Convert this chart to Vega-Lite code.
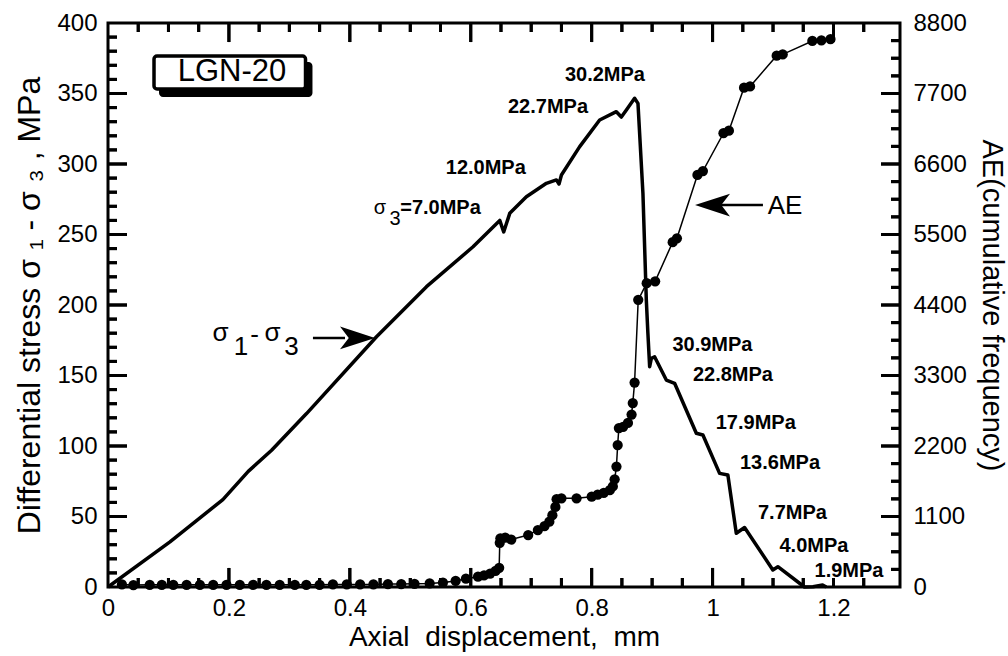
{
  "$schema": "https://vega.github.io/schema/vega-lite/v6.json",
  "width": 792,
  "height": 564,
  "autosize": {"type": "none"},
  "padding": {"left": 108, "top": 23, "right": 108, "bottom": 69},
  "background": "white",
  "config": {
    "view": {"stroke": "black", "strokeWidth": 3},
    "font": "Liberation Sans",
    "axis": {
      "grid": false, "domain": false, "ticks": false, "labelColor": "black", "titleColor": "black",
      "labelFont": "Liberation Sans", "titleFont": "Liberation Sans", "labelFontSize": 24, "titleFontSize": 28,
      "titleFontWeight": "normal", "labelFlush": false, "labelOverlap": false, "labelBound": false
    }
  },
  "datasets": {
    "stress": [
      {"x": 0.0, "s": 0}, {"x": 0.1025, "s": 32}, {"x": 0.19, "s": 62}, {"x": 0.232, "s": 82},
      {"x": 0.2706, "s": 97}, {"x": 0.3284, "s": 123}, {"x": 0.4441, "s": 177.5}, {"x": 0.5268, "s": 213},
      {"x": 0.6038, "s": 241.3}, {"x": 0.648, "s": 260}, {"x": 0.6545, "s": 251.8}, {"x": 0.6645, "s": 265},
      {"x": 0.692, "s": 276.8}, {"x": 0.7251, "s": 286.3}, {"x": 0.7417, "s": 288.7}, {"x": 0.746, "s": 285.8},
      {"x": 0.75, "s": 292.2}, {"x": 0.7802, "s": 312.3}, {"x": 0.8132, "s": 331.2}, {"x": 0.8408, "s": 337.1},
      {"x": 0.8491, "s": 333.3}, {"x": 0.8574, "s": 338.3}, {"x": 0.871, "s": 346.6}, {"x": 0.8766, "s": 343},
      {"x": 0.8848, "s": 279.2}, {"x": 0.8904, "s": 203.5}, {"x": 0.893, "s": 180.1}, {"x": 0.8959, "s": 156.2},
      {"x": 0.8987, "s": 162.2}, {"x": 0.9041, "s": 163.3}, {"x": 0.9235, "s": 146.8}, {"x": 0.9372, "s": 144.5},
      {"x": 0.9731, "s": 109}, {"x": 0.984, "s": 107.8}, {"x": 1.0116, "s": 80.6}, {"x": 1.0253, "s": 79.4},
      {"x": 1.0392, "s": 38.1}, {"x": 1.0529, "s": 42.2}, {"x": 1.0997, "s": 12.1}, {"x": 1.108, "s": 14.4},
      {"x": 1.152, "s": 0}, {"x": 1.166, "s": 0.2}, {"x": 1.182, "s": 1.4}, {"x": 1.188, "s": 0}
    ],
    "ae": [
      {"x": 0.023, "ae": 40}, {"x": 0.042, "ae": 30}, {"x": 0.069, "ae": 35}, {"x": 0.089, "ae": 35},
      {"x": 0.108, "ae": 35}, {"x": 0.130, "ae": 35}, {"x": 0.152, "ae": 35}, {"x": 0.174, "ae": 35},
      {"x": 0.196, "ae": 35}, {"x": 0.218, "ae": 35}, {"x": 0.240, "ae": 35}, {"x": 0.262, "ae": 35},
      {"x": 0.284, "ae": 35}, {"x": 0.309, "ae": 35}, {"x": 0.328, "ae": 35}, {"x": 0.350, "ae": 35},
      {"x": 0.372, "ae": 40}, {"x": 0.395, "ae": 40}, {"x": 0.417, "ae": 40}, {"x": 0.439, "ae": 40},
      {"x": 0.463, "ae": 45}, {"x": 0.485, "ae": 45}, {"x": 0.507, "ae": 50}, {"x": 0.532, "ae": 55},
      {"x": 0.554, "ae": 70}, {"x": 0.575, "ae": 95}, {"x": 0.592, "ae": 130}, {"x": 0.612, "ae": 160},
      {"x": 0.622, "ae": 180}, {"x": 0.632, "ae": 210}, {"x": 0.641, "ae": 250}, {"x": 0.647, "ae": 300},
      {"x": 0.648, "ae": 690}, {"x": 0.649, "ae": 760}, {"x": 0.657, "ae": 770}, {"x": 0.667, "ae": 740},
      {"x": 0.695, "ae": 811}, {"x": 0.711, "ae": 889}, {"x": 0.722, "ae": 950}, {"x": 0.730, "ae": 1020},
      {"x": 0.735, "ae": 1120}, {"x": 0.740, "ae": 1250}, {"x": 0.742, "ae": 1370}, {"x": 0.750, "ae": 1384},
      {"x": 0.775, "ae": 1384}, {"x": 0.800, "ae": 1409}, {"x": 0.810, "ae": 1440}, {"x": 0.820, "ae": 1470},
      {"x": 0.830, "ae": 1510}, {"x": 0.835, "ae": 1570}, {"x": 0.838, "ae": 1680}, {"x": 0.841, "ae": 1880},
      {"x": 0.843, "ae": 2215}, {"x": 0.845, "ae": 2480}, {"x": 0.852, "ae": 2500}, {"x": 0.860, "ae": 2560},
      {"x": 0.866, "ae": 2690}, {"x": 0.868, "ae": 2870}, {"x": 0.871, "ae": 3190}, {"x": 0.877, "ae": 4480},
      {"x": 0.891, "ae": 4740}, {"x": 0.905, "ae": 4770}, {"x": 0.934, "ae": 5380}, {"x": 0.941, "ae": 5440},
      {"x": 0.975, "ae": 6430}, {"x": 0.984, "ae": 6490}, {"x": 1.018, "ae": 7080}, {"x": 1.027, "ae": 7120},
      {"x": 1.052, "ae": 7790}, {"x": 1.062, "ae": 7810}, {"x": 1.106, "ae": 8290}, {"x": 1.116, "ae": 8310},
      {"x": 1.165, "ae": 8520}, {"x": 1.180, "ae": 8530}, {"x": 1.195, "ae": 8550}
    ],
    "labels": [
      {"g": "b", "x": 0.822, "y": 363.1, "t": "30.2MPa"},
      {"g": "b", "x": 0.7278, "y": 340.1, "t": "22.7MPa"},
      {"g": "b", "x": 0.6249, "y": 297.5, "t": "12.0MPa"},
      {"g": "b", "x": 0.55, "y": 269.1, "t": "=7.0MPa"},
      {"g": "b", "x": 0.9998, "y": 171.6, "t": "30.9MPa"},
      {"g": "b", "x": 1.0337, "y": 150.4, "t": "22.8MPa"},
      {"g": "b", "x": 1.0714, "y": 116.3, "t": "17.9MPa"},
      {"g": "b", "x": 1.1115, "y": 87.9, "t": "13.6MPa"},
      {"g": "b", "x": 1.1321, "y": 52.5, "t": "7.7MPa"},
      {"g": "b", "x": 1.1677, "y": 29.1, "t": "4.0MPa"},
      {"g": "b", "x": 1.2256, "y": 11.3, "t": "1.9MPa"},
      {"g": "s", "x": 0.4499, "y": 268.8, "t": "σ"},
      {"g": "s", "x": 0.4747, "y": 261.3, "t": "3"},
      {"g": "L", "x": 0.1861, "y": 179.8, "t": "σ"},
      {"g": "L", "x": 0.22, "y": 169.9, "t": "1"},
      {"g": "L", "x": 0.2423, "y": 178.7, "t": "-"},
      {"g": "L", "x": 0.2721, "y": 179.8, "t": "σ"},
      {"g": "L", "x": 0.3035, "y": 169.9, "t": "3"},
      {"g": "L", "x": 1.1198, "y": 270.2, "t": "AE"},
      {"g": "T", "x": 0.2051, "y": 365.6, "t": "LGN-20"}
    ],
    "arrows": [
      {"dir": "r", "x1": 0.339, "x2": 0.392, "hx": 0.4127, "y": 176.6},
      {"dir": "l", "x1": 1.005, "x2": 1.0833, "hx": 0.9999, "y": 270.9}
    ],
    "box": [
      {"part": "shadow", "x1": 0.0844, "x2": 0.3382, "y1": 372.3, "y2": 347.5},
      {"part": "front", "x1": 0.0761, "x2": 0.3267, "y1": 376.6, "y2": 353.2}
    ],
    "tk": [
      {"o": "v", "x": 0.2, "a": 0, "b": 13.5}, {"o": "v", "x": 0.4, "a": 0, "b": 13.5}, {"o": "v", "x": 0.6, "a": 0, "b": 13.5},
      {"o": "v", "x": 0.8, "a": 0, "b": 13.5}, {"o": "v", "x": 1.0, "a": 0, "b": 13.5},
      {"o": "v", "x": 0.2, "a": 400, "b": 386.5}, {"o": "v", "x": 0.4, "a": 400, "b": 386.5}, {"o": "v", "x": 0.6, "a": 400, "b": 386.5},
      {"o": "v", "x": 0.8, "a": 400, "b": 386.5}, {"o": "v", "x": 1.0, "a": 400, "b": 386.5}, {"o": "v", "x": 1.2, "a": 400, "b": 386.5},
      {"o": "v", "x": 0.05, "a": 0, "b": 6.4}, {"o": "v", "x": 0.1, "a": 0, "b": 6.4}, {"o": "v", "x": 0.15, "a": 0, "b": 6.4},
      {"o": "v", "x": 0.25, "a": 0, "b": 6.4}, {"o": "v", "x": 0.3, "a": 0, "b": 6.4}, {"o": "v", "x": 0.35, "a": 0, "b": 6.4},
      {"o": "v", "x": 0.45, "a": 0, "b": 6.4}, {"o": "v", "x": 0.5, "a": 0, "b": 6.4}, {"o": "v", "x": 0.55, "a": 0, "b": 6.4},
      {"o": "v", "x": 0.65, "a": 0, "b": 6.4}, {"o": "v", "x": 0.7, "a": 0, "b": 6.4}, {"o": "v", "x": 0.75, "a": 0, "b": 6.4},
      {"o": "v", "x": 0.85, "a": 0, "b": 6.4}, {"o": "v", "x": 0.9, "a": 0, "b": 6.4}, {"o": "v", "x": 0.95, "a": 0, "b": 6.4},
      {"o": "v", "x": 1.05, "a": 0, "b": 6.4}, {"o": "v", "x": 1.1, "a": 0, "b": 6.4}, {"o": "v", "x": 1.15, "a": 0, "b": 6.4},
      {"o": "v", "x": 1.2, "a": 0, "b": 6.4}, {"o": "v", "x": 1.25, "a": 0, "b": 6.4},
      {"o": "v", "x": 0.05, "a": 400, "b": 393.6}, {"o": "v", "x": 0.1, "a": 400, "b": 393.6}, {"o": "v", "x": 0.15, "a": 400, "b": 393.6},
      {"o": "v", "x": 0.25, "a": 400, "b": 393.6}, {"o": "v", "x": 0.3, "a": 400, "b": 393.6}, {"o": "v", "x": 0.35, "a": 400, "b": 393.6},
      {"o": "v", "x": 0.45, "a": 400, "b": 393.6}, {"o": "v", "x": 0.5, "a": 400, "b": 393.6}, {"o": "v", "x": 0.55, "a": 400, "b": 393.6},
      {"o": "v", "x": 0.65, "a": 400, "b": 393.6}, {"o": "v", "x": 0.7, "a": 400, "b": 393.6}, {"o": "v", "x": 0.75, "a": 400, "b": 393.6},
      {"o": "v", "x": 0.85, "a": 400, "b": 393.6}, {"o": "v", "x": 0.9, "a": 400, "b": 393.6}, {"o": "v", "x": 0.95, "a": 400, "b": 393.6},
      {"o": "v", "x": 1.05, "a": 400, "b": 393.6}, {"o": "v", "x": 1.1, "a": 400, "b": 393.6}, {"o": "v", "x": 1.15, "a": 400, "b": 393.6},
      {"o": "v", "x": 1.25, "a": 400, "b": 393.6},
      {"o": "h", "y": 50, "a": 0, "b": 0.0314}, {"o": "h", "y": 100, "a": 0, "b": 0.0314}, {"o": "h", "y": 150, "a": 0, "b": 0.0314},
      {"o": "h", "y": 200, "a": 0, "b": 0.0314}, {"o": "h", "y": 250, "a": 0, "b": 0.0314}, {"o": "h", "y": 300, "a": 0, "b": 0.0314},
      {"o": "h", "y": 350, "a": 0, "b": 0.0314},
      {"o": "h", "y": 50, "a": 1.31, "b": 1.2786}, {"o": "h", "y": 100, "a": 1.31, "b": 1.2786}, {"o": "h", "y": 150, "a": 1.31, "b": 1.2786},
      {"o": "h", "y": 200, "a": 1.31, "b": 1.2786}, {"o": "h", "y": 250, "a": 1.31, "b": 1.2786}, {"o": "h", "y": 300, "a": 1.31, "b": 1.2786},
      {"o": "h", "y": 350, "a": 1.31, "b": 1.2786},
      {"o": "h", "y": 10, "a": 0, "b": 0.0149}, {"o": "h", "y": 20, "a": 0, "b": 0.0149}, {"o": "h", "y": 30, "a": 0, "b": 0.0149},
      {"o": "h", "y": 40, "a": 0, "b": 0.0149}, {"o": "h", "y": 60, "a": 0, "b": 0.0149}, {"o": "h", "y": 70, "a": 0, "b": 0.0149},
      {"o": "h", "y": 80, "a": 0, "b": 0.0149}, {"o": "h", "y": 90, "a": 0, "b": 0.0149}, {"o": "h", "y": 110, "a": 0, "b": 0.0149},
      {"o": "h", "y": 120, "a": 0, "b": 0.0149}, {"o": "h", "y": 130, "a": 0, "b": 0.0149}, {"o": "h", "y": 140, "a": 0, "b": 0.0149},
      {"o": "h", "y": 160, "a": 0, "b": 0.0149}, {"o": "h", "y": 170, "a": 0, "b": 0.0149}, {"o": "h", "y": 180, "a": 0, "b": 0.0149},
      {"o": "h", "y": 190, "a": 0, "b": 0.0149}, {"o": "h", "y": 210, "a": 0, "b": 0.0149}, {"o": "h", "y": 220, "a": 0, "b": 0.0149},
      {"o": "h", "y": 230, "a": 0, "b": 0.0149}, {"o": "h", "y": 240, "a": 0, "b": 0.0149}, {"o": "h", "y": 260, "a": 0, "b": 0.0149},
      {"o": "h", "y": 270, "a": 0, "b": 0.0149}, {"o": "h", "y": 280, "a": 0, "b": 0.0149}, {"o": "h", "y": 290, "a": 0, "b": 0.0149},
      {"o": "h", "y": 310, "a": 0, "b": 0.0149}, {"o": "h", "y": 320, "a": 0, "b": 0.0149}, {"o": "h", "y": 330, "a": 0, "b": 0.0149},
      {"o": "h", "y": 340, "a": 0, "b": 0.0149}, {"o": "h", "y": 360, "a": 0, "b": 0.0149}, {"o": "h", "y": 370, "a": 0, "b": 0.0149},
      {"o": "h", "y": 380, "a": 0, "b": 0.0149}, {"o": "h", "y": 390, "a": 0, "b": 0.0149},
      {"o": "h", "y": 12.5, "a": 1.31, "b": 1.2951}, {"o": "h", "y": 25, "a": 1.31, "b": 1.2951}, {"o": "h", "y": 37.5, "a": 1.31, "b": 1.2951},
      {"o": "h", "y": 62.5, "a": 1.31, "b": 1.2951}, {"o": "h", "y": 75, "a": 1.31, "b": 1.2951}, {"o": "h", "y": 87.5, "a": 1.31, "b": 1.2951},
      {"o": "h", "y": 112.5, "a": 1.31, "b": 1.2951}, {"o": "h", "y": 125, "a": 1.31, "b": 1.2951}, {"o": "h", "y": 137.5, "a": 1.31, "b": 1.2951},
      {"o": "h", "y": 162.5, "a": 1.31, "b": 1.2951}, {"o": "h", "y": 175, "a": 1.31, "b": 1.2951}, {"o": "h", "y": 187.5, "a": 1.31, "b": 1.2951},
      {"o": "h", "y": 212.5, "a": 1.31, "b": 1.2951}, {"o": "h", "y": 225, "a": 1.31, "b": 1.2951}, {"o": "h", "y": 237.5, "a": 1.31, "b": 1.2951},
      {"o": "h", "y": 262.5, "a": 1.31, "b": 1.2951}, {"o": "h", "y": 275, "a": 1.31, "b": 1.2951}, {"o": "h", "y": 287.5, "a": 1.31, "b": 1.2951},
      {"o": "h", "y": 312.5, "a": 1.31, "b": 1.2951}, {"o": "h", "y": 325, "a": 1.31, "b": 1.2951}, {"o": "h", "y": 337.5, "a": 1.31, "b": 1.2951},
      {"o": "h", "y": 362.5, "a": 1.31, "b": 1.2951}, {"o": "h", "y": 375, "a": 1.31, "b": 1.2951}, {"o": "h", "y": 387.5, "a": 1.31, "b": 1.2951}
    ]
  },
  "resolve": {"scale": {"y": "independent"}, "axis": {"x": "independent", "y": "independent"}},
  "layer": [
    {
      "data": {"name": "stress"},
      "mark": {"type": "line", "color": "black", "strokeWidth": 3.5, "strokeJoin": "round"},
      "encoding": {
        "x": {"field": "x", "type": "quantitative", "scale": {"domain": [0, 1.31], "nice": false, "zero": false},
          "axis": {"orient": "bottom", "values": [0, 0.2, 0.4, 0.6, 0.8, 1, 1.2], "format": "~g", "labelPadding": 9,
            "title": "Axial\u00a0\u00a0displacement,\u00a0\u00a0mm", "titlePadding": 3}},
        "y": {"field": "s", "type": "quantitative", "scale": {"domain": [0, 400], "nice": false, "zero": false},
          "axis": {"orient": "left", "values": [0, 50, 100, 150, 200, 250, 300, 350, 400], "format": "d", "labelPadding": 11,
            "title": "Differential stress σ ₁ - σ ₃ , MPa", "titleFontSize": 32, "titlePadding": 10}},
        "order": {"value": null}
      }
    },
    {
      "data": {"name": "ae"},
      "mark": {"type": "line", "color": "black", "strokeWidth": 1.5},
      "encoding": {
        "x": {"field": "x", "type": "quantitative", "scale": {"domain": [0, 1.31], "nice": false, "zero": false}, "axis": null},
        "y": {"field": "ae", "type": "quantitative", "scale": {"domain": [0, 8800], "nice": false, "zero": false},
          "axis": {"orient": "right", "values": [0, 1100, 2200, 3300, 4400, 5500, 6600, 7700, 8800], "format": "d", "labelPadding": 13,
            "title": "AE(cumulative frequency)", "titleFontSize": 29, "titlePadding": 10}},
        "order": {"value": null}
      }
    },
    {
      "data": {"name": "ae"},
      "mark": {"type": "circle", "color": "black", "size": 105, "opacity": 1},
      "encoding": {
        "x": {"field": "x", "type": "quantitative", "scale": {"domain": [0, 1.31], "nice": false, "zero": false}, "axis": null},
        "y": {"field": "ae", "type": "quantitative", "scale": {"domain": [0, 8800], "nice": false, "zero": false}, "axis": null}
      }
    },
    {
      "data": {"name": "tk"},
      "transform": [{"filter": "datum.o === 'v'"}],
      "mark": {"type": "rect", "color": "black", "width": 3, "opacity": 1},
      "encoding": {
        "x": {"field": "x", "type": "quantitative", "scale": {"domain": [0, 1.31], "nice": false, "zero": false}, "axis": null},
        "y": {"field": "a", "type": "quantitative", "scale": {"domain": [0, 400], "nice": false, "zero": false}, "axis": null},
        "y2": {"field": "b"}
      }
    },
    {
      "data": {"name": "tk"},
      "transform": [{"filter": "datum.o === 'h'"}],
      "mark": {"type": "rect", "color": "black", "height": 3, "opacity": 1},
      "encoding": {
        "y": {"field": "y", "type": "quantitative", "scale": {"domain": [0, 400], "nice": false, "zero": false}, "axis": null},
        "x": {"field": "a", "type": "quantitative", "scale": {"domain": [0, 1.31], "nice": false, "zero": false}, "axis": null},
        "x2": {"field": "b"}
      }
    },
    {
      "data": {"name": "tk"},
      "transform": [{"filter": "datum.o === 'v'"}],
      "mark": {"type": "rule", "color": "black", "strokeWidth": 3},
      "encoding": {
        "x": {"field": "x", "type": "quantitative", "scale": {"domain": [0, 1.31], "nice": false, "zero": false}, "axis": null},
        "y": {"field": "a", "type": "quantitative", "scale": {"domain": [0, 400], "nice": false, "zero": false}, "axis": null},
        "y2": {"field": "b"}
      }
    },
    {
      "data": {"name": "tk"},
      "transform": [{"filter": "datum.o === 'h'"}],
      "mark": {"type": "rule", "color": "black", "strokeWidth": 3},
      "encoding": {
        "y": {"field": "y", "type": "quantitative", "scale": {"domain": [0, 400], "nice": false, "zero": false}, "axis": null},
        "x": {"field": "a", "type": "quantitative", "scale": {"domain": [0, 1.31], "nice": false, "zero": false}, "axis": null},
        "x2": {"field": "b"}
      }
    },
    {
      "data": {"name": "box"},
      "transform": [{"filter": "datum.part === 'shadow'"}],
      "mark": {"type": "rect", "color": "black", "cornerRadius": 4},
      "encoding": {
        "x": {"field": "x1", "type": "quantitative", "scale": {"domain": [0, 1.31], "nice": false, "zero": false}, "axis": null},
        "x2": {"field": "x2"},
        "y": {"field": "y1", "type": "quantitative", "scale": {"domain": [0, 400], "nice": false, "zero": false}, "axis": null},
        "y2": {"field": "y2"}
      }
    },
    {
      "data": {"name": "box"},
      "transform": [{"filter": "datum.part === 'front'"}],
      "mark": {"type": "rect", "fill": "white", "stroke": "black", "strokeWidth": 3.5, "cornerRadius": 3},
      "encoding": {
        "x": {"field": "x1", "type": "quantitative", "scale": {"domain": [0, 1.31], "nice": false, "zero": false}, "axis": null},
        "x2": {"field": "x2"},
        "y": {"field": "y1", "type": "quantitative", "scale": {"domain": [0, 400], "nice": false, "zero": false}, "axis": null},
        "y2": {"field": "y2"}
      }
    },
    {
      "data": {"name": "labels"},
      "transform": [{"filter": "datum.g === 'b'"}],
      "mark": {"type": "text", "font": "Liberation Sans", "fontSize": 20, "fontWeight": "bold", "align": "center", "baseline": "middle", "color": "black"},
      "encoding": {
        "x": {"field": "x", "type": "quantitative", "scale": {"domain": [0, 1.31], "nice": false, "zero": false}, "axis": null},
        "y": {"field": "y", "type": "quantitative", "scale": {"domain": [0, 400], "nice": false, "zero": false}, "axis": null},
        "text": {"field": "t"}
      }
    },
    {
      "data": {"name": "labels"},
      "transform": [{"filter": "datum.g === 's'"}],
      "mark": {"type": "text", "font": "Liberation Sans", "fontSize": 20, "align": "center", "baseline": "middle", "color": "black"},
      "encoding": {
        "x": {"field": "x", "type": "quantitative", "scale": {"domain": [0, 1.31], "nice": false, "zero": false}, "axis": null},
        "y": {"field": "y", "type": "quantitative", "scale": {"domain": [0, 400], "nice": false, "zero": false}, "axis": null},
        "text": {"field": "t"}
      }
    },
    {
      "data": {"name": "labels"},
      "transform": [{"filter": "datum.g === 'L'"}],
      "mark": {"type": "text", "font": "Liberation Sans", "fontSize": 26, "align": "center", "baseline": "middle", "color": "black"},
      "encoding": {
        "x": {"field": "x", "type": "quantitative", "scale": {"domain": [0, 1.31], "nice": false, "zero": false}, "axis": null},
        "y": {"field": "y", "type": "quantitative", "scale": {"domain": [0, 400], "nice": false, "zero": false}, "axis": null},
        "text": {"field": "t"}
      }
    },
    {
      "data": {"name": "labels"},
      "transform": [{"filter": "datum.g === 'T'"}],
      "mark": {"type": "text", "font": "Liberation Sans", "fontSize": 31, "letterSpacing": 5, "align": "center", "baseline": "middle", "color": "black"},
      "encoding": {
        "x": {"field": "x", "type": "quantitative", "scale": {"domain": [0, 1.31], "nice": false, "zero": false}, "axis": null},
        "y": {"field": "y", "type": "quantitative", "scale": {"domain": [0, 400], "nice": false, "zero": false}, "axis": null},
        "text": {"field": "t"}
      }
    },
    {
      "data": {"name": "arrows"},
      "mark": {"type": "rule", "color": "black", "strokeWidth": 2.5},
      "encoding": {
        "x": {"field": "x1", "type": "quantitative", "scale": {"domain": [0, 1.31], "nice": false, "zero": false}, "axis": null},
        "x2": {"field": "x2"},
        "y": {"field": "y", "type": "quantitative", "scale": {"domain": [0, 400], "nice": false, "zero": false}, "axis": null}
      }
    },
    {
      "data": {"name": "arrows"},
      "transform": [{"filter": "datum.dir === 'r'"}],
      "mark": {"type": "point", "shape": "M1,0L-1,-0.65L-0.5,0L-1,0.65Z", "size": 1225, "filled": true, "color": "black", "opacity": 1, "strokeWidth": 0},
      "encoding": {
        "x": {"field": "hx", "type": "quantitative", "scale": {"domain": [0, 1.31], "nice": false, "zero": false}, "axis": null},
        "y": {"field": "y", "type": "quantitative", "scale": {"domain": [0, 400], "nice": false, "zero": false}, "axis": null}
      }
    },
    {
      "data": {"name": "arrows"},
      "transform": [{"filter": "datum.dir === 'l'"}],
      "mark": {"type": "point", "shape": "M-1,0L1,-0.65L0.5,0L1,0.65Z", "size": 1225, "filled": true, "color": "black", "opacity": 1, "strokeWidth": 0},
      "encoding": {
        "x": {"field": "hx", "type": "quantitative", "scale": {"domain": [0, 1.31], "nice": false, "zero": false}, "axis": null},
        "y": {"field": "y", "type": "quantitative", "scale": {"domain": [0, 400], "nice": false, "zero": false}, "axis": null}
      }
    }
  ]
}
